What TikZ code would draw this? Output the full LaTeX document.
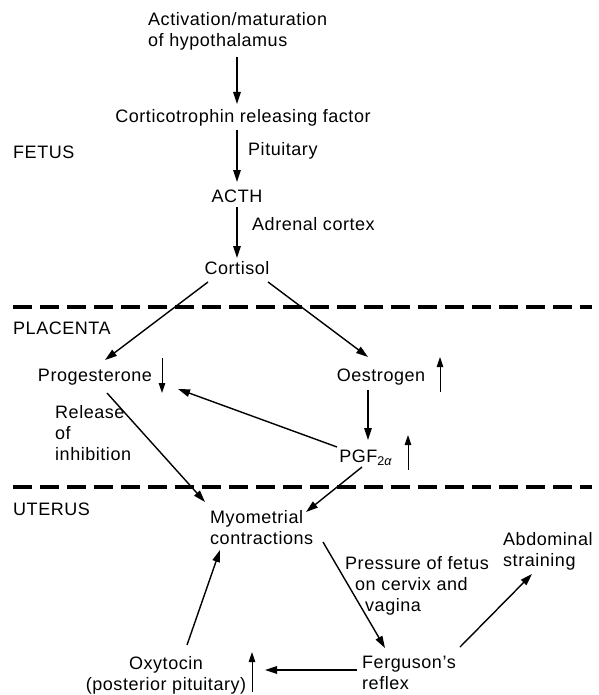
\documentclass[tikz,border=0pt]{standalone}
\usepackage{fontspec}
\setmainfont{Liberation Sans}[LetterSpace=3]
\usetikzlibrary{arrows.meta,calc}
\begin{document}
\begin{tikzpicture}[x=1pt,y=-1pt,
  lbl/.style={inner sep=0pt, font=\fontsize{18}{21}\selectfont},
  arr/.style={line width=1.4pt, -{Triangle[length=12pt,width=7.5pt]}},
  ind/.style={line width=1pt, -{Triangle[length=10pt,width=6.5pt]}},
  sep/.style={line width=4.5pt, dash pattern=on 19pt off 8pt}]
\useasboundingbox (0,0) rectangle (598,695);
% labels
\node[lbl, align=left, anchor=west] (act) at (148,31) {Activation/maturation\\of hypothalamus};
\node[lbl] (crf) at (243,118) {Corticotrophin releasing factor};
\node[lbl, anchor=west] (fetus) at (13,152) {FETUS};
\node[lbl, anchor=west] (pit) at (248,151) {Pituitary};
\node[lbl] (acth) at (237,196) {ACTH};
\node[lbl, anchor=west] (adr) at (252,224) {Adrenal cortex};
\node[lbl] (cort) at (237,268) {Cortisol};
\node[lbl, anchor=west] (plac) at (13,328) {PLACENTA};
\node[lbl] (prog) at (95,377) {Progesterone};
\node[lbl] (oest) at (381,377) {Oestrogen};
\node[lbl, align=left, anchor=west] (rel) at (55,433) {Release\\of\\inhibition};
\node[lbl] (pgf) at (366,458) {PGF\textsubscript{2\textit{α}}};
\node[lbl, anchor=west] (ut) at (13,509) {UTERUS};
\node[lbl, align=left, anchor=west] (myo) at (210,528) {Myometrial\\contractions};
\node[lbl, align=left, anchor=west] (abd) at (503,551) {Abdominal\\straining};
\node[lbl, align=left, anchor=west] (press) at (345,586) {Pressure of fetus\\\hspace*{10pt}on cervix and\\\hspace*{20pt}vagina};
\node[lbl, align=left, anchor=west] (ferg) at (362,673) {Ferguson’s\\reflex};
\node[lbl, align=center] (oxy) at (166,675) {Oxytocin\\(posterior pituitary)};
% separators
\draw[sep] (13,307) -- (592,307);
\draw[sep] (13,487) -- (592,487);
% connectors
\draw[arr] ($(act.west)+(89,26)$) -- ($(crf)+(-6,-14)$);
\draw[arr] ($(crf)+(-6,12)$) -- ($(acth)+(0,-14)$);
\draw[arr] ($(acth)+(0,11)$) -- ($(cort)+(0,-10)$);
\draw[arr] ($(cort)+(-29,14)$) -- ($(prog)+(10,-17)$);
\draw[arr] ($(cort)+(31,14)$) -- ($(oest)+(-13,-20)$);
\draw[arr] ($(oest)+(-13,13)$) -- ($(pgf)+(2,-18)$);
\draw[arr] ($(pgf)+(-29,-11)$) -- ($(prog)+(83,12)$);
\draw[arr] ($(prog)+(12,16)$) -- ($(myo.west)+(-5,-26)$);
\draw[arr] ($(pgf)+(-4,9)$) -- ($(myo.west)+(96,-16)$);
\draw[arr] ($(myo.west)+(113,14)$) -- ($(ferg.west)+(23,-25)$);
\draw[arr] ($(ferg.west)+(98,-26)$) -- ($(abd.west)+(29,23)$);
\draw[arr] ($(ferg.west)+(-5,-3)$) -- ($(oxy)+(99,-5)$);
\draw[arr] ($(oxy)+(21,-30)$) -- ($(myo.west)+(10,22)$);
% up/down indicators
\draw[ind] ($(prog)+(67,-19)$) -- ($(prog)+(67,16)$);
\draw[ind] ($(oest)+(59,15)$) -- ($(oest)+(59,-20)$);
\draw[ind] ($(pgf)+(42,12)$) -- ($(pgf)+(42,-23)$);
\draw[ind] ($(oxy)+(86,17)$) -- ($(oxy)+(86,-23)$);
\end{tikzpicture}
\end{document}
